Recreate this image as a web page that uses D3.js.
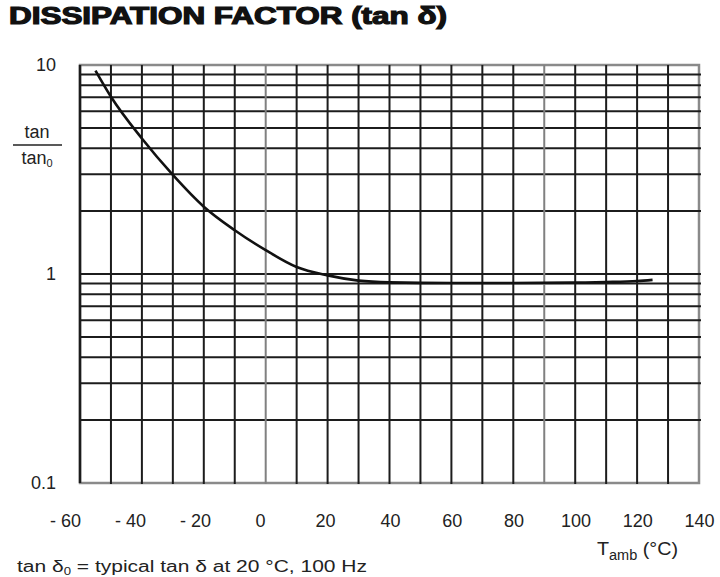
<!DOCTYPE html>
<html>
<head>
<meta charset="utf-8">
<script src="https://cdn.jsdelivr.net/npm/d3@7"></script>
<style>
  body { margin: 0; background: #fff; }
  svg { display: block; font-family: "Liberation Sans", Arial, sans-serif; }
</style>
</head>
<body>
<svg id="chart" width="720" height="577"></svg>
<script>
// données (T en °C, tan / tan0)
const temps = [-55, -50, -40, -30, -20, -10, 0, 10, 20, 30, 40, 60, 80, 100, 110, 120, 125];
const ratios = [9.4, 7.05, 4.45, 2.98, 2.1, 1.62, 1.3, 1.08, 0.985, 0.93, 0.912, 0.905, 0.905, 0.91, 0.915, 0.925, 0.937];

const xTicks = [-60, -40, -20, 0, 20, 40, 60, 80, 100, 120, 140];
const xGrid = [-50, -40, -30, -20, -10, 0, 10, 20, 30, 40, 50, 60, 70, 80, 90, 100, 110, 120, 130];
const greyGrid = [0, 90];
const yTicks = [0.1, 1, 10];

const svg = d3.select("#chart");

// Dimensions
const plotLeft = 80, plotRight = 699, plotTop = 65, plotBottom = 483;

const x = d3.scaleLinear().domain([-60, 140]).range([plotLeft, plotRight]);
const y = d3.scaleLog().domain([0.1, 10]).range([plotBottom, plotTop]);
// les étiquettes de l'original ne tombent pas pile sur la grille
const xLabel = d3.scaleLinear().domain([-60, 40, 140]).range([65, 390, 699]);

// Titre
svg.append("text")
  .attr("x", 9).attr("y", 24)
  .attr("font-size", 23).attr("font-weight", "bold")
  .attr("fill", "#111").attr("stroke", "#111").attr("stroke-width", 1.2)
  .attr("textLength", 438).attr("lengthAdjust", "spacingAndGlyphs")
  .text("DISSIPATION FACTOR (tan δ)");

// bordure grise
svg.append("rect")
  .attr("x", plotLeft).attr("y", plotTop)
  .attr("width", plotRight - plotLeft).attr("height", plotBottom - plotTop)
  .attr("fill", "none").attr("stroke", "#8a8a8a").attr("stroke-width", 2.5);

const grid = svg.append("g").attr("stroke", "#1c1c1c").attr("stroke-width", 2);

// lignes horizontales (log)
grid.selectAll("line.h")
  .data(y.ticks().filter(d => d > 0.1 && d < 10))
  .enter().append("line")
  .attr("class", "h")
  .attr("x1", plotLeft).attr("x2", plotRight + 2)
  .attr("y1", d => y(d)).attr("y2", d => y(d));

// lignes verticales
grid.selectAll("line.v")
  .data(xGrid)
  .enter().append("line")
  .attr("class", "v")
  .attr("x1", d => x(d)).attr("x2", d => x(d))
  .attr("y1", plotTop).attr("y2", plotBottom + 1)
  .attr("stroke", d => greyGrid.includes(d) ? "#808080" : null);

// bord gauche noir
grid.append("line")
  .attr("x1", x(-60)).attr("x2", x(-60))
  .attr("y1", plotTop).attr("y2", plotBottom)
  .attr("stroke-width", 2.5);

// courbe
const line = d3.line()
  .x((d, i) => x(temps[i]))
  .y(d => y(d))
  .curve(d3.curveMonotoneX);

svg.append("path")
  .datum(ratios)
  .attr("d", line)
  .attr("fill", "none")
  .attr("stroke", "#111")
  .attr("stroke-width", 2.6);

// Axes
const axeX = d3.axisBottom(xLabel)
  .tickValues(xTicks)
  .tickSize(0).tickPadding(0)
  .tickFormat(d => d < 0 ? "- " + (-d) : d);

const gx = svg.append("g")
  .attr("transform", "translate(0, 514)")
  .call(axeX);
gx.select(".domain").remove();
gx.selectAll("text")
  .attr("font-size", 18)
  .attr("fill", "#222")
  .attr("font-family", "Liberation Sans, Arial, sans-serif");

const axeY = d3.axisLeft(y)
  .tickValues(yTicks)
  .tickSize(0).tickPadding(0)
  .tickFormat(d => d === 0.1 ? "0.1" : String(d));

const gy = svg.append("g")
  .attr("transform", "translate(56, 0)")
  .call(axeY);
gy.select(".domain").remove();
gy.selectAll("text")
  .attr("font-size", 18)
  .attr("fill", "#222")
  .attr("font-family", "Liberation Sans, Arial, sans-serif");

// titre de l'axe Y : tan / tan0
const yt = svg.append("g").attr("fill", "#222").attr("font-size", 18);
yt.append("text")
  .attr("x", 37).attr("y", 138)
  .attr("text-anchor", "middle")
  .text("tan");
yt.append("line")
  .attr("x1", 13).attr("x2", 62)
  .attr("y1", 145).attr("y2", 145)
  .attr("stroke", "#222").attr("stroke-width", 1.5);
const t0 = yt.append("text")
  .attr("x", 37).attr("y", 164)
  .attr("text-anchor", "middle");
t0.append("tspan").text("tan");
t0.append("tspan").attr("font-size", 11).attr("dy", 3).text("0");

// titre de l'axe X
const tx = svg.append("text")
  .attr("x", 597).attr("y", 555)
  .attr("font-size", 19).attr("fill", "#222")
  .attr("textLength", 81).attr("lengthAdjust", "spacingAndGlyphs");
tx.append("tspan").text("T");
tx.append("tspan").attr("font-size", 14).attr("dy", 5).text("amb");
tx.append("tspan").attr("dy", -5).text(" (°C)");

// note en bas
const note = svg.append("text")
  .attr("x", 17).attr("y", 572)
  .attr("font-size", 16).attr("fill", "#222")
  .attr("textLength", 350).attr("lengthAdjust", "spacingAndGlyphs");
note.append("tspan").text("tan δ");
note.append("tspan").attr("font-size", 10).attr("dy", 3).text("0");
note.append("tspan").attr("dy", -3).text(" = typical tan δ at 20 °C, 100 Hz");
</script>
</body>
</html>
